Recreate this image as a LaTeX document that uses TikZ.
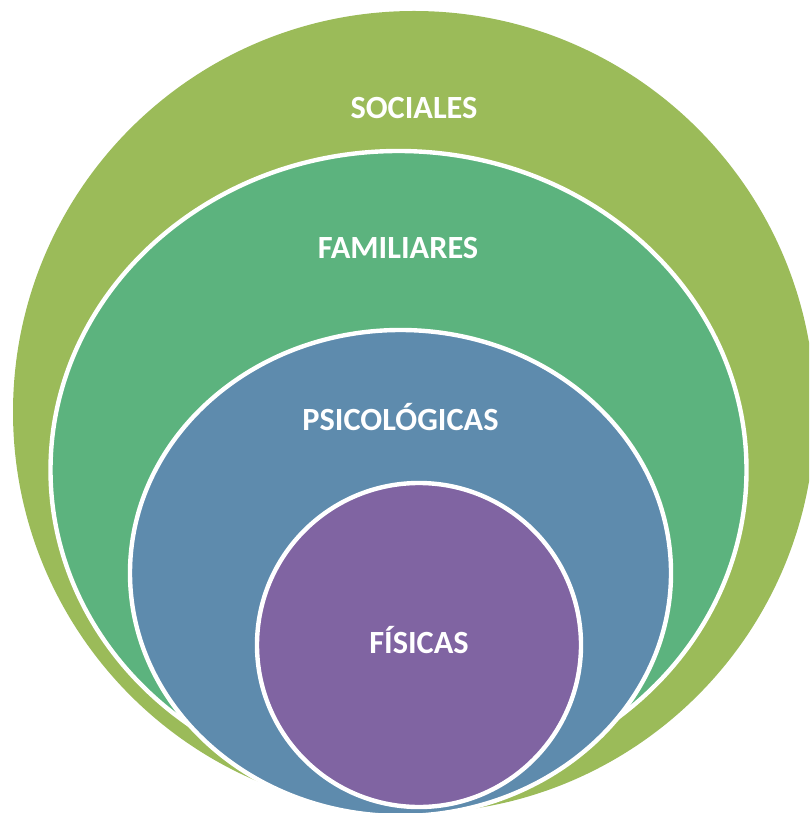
\documentclass[tikz,border=0pt]{standalone}
\usepackage{fontspec}
\setmainfont{Carlito}
\usetikzlibrary{calc}
\definecolor{socialcol}{HTML}{9BBB59}
\definecolor{familycol}{HTML}{5CB37E}
\definecolor{psychcol}{HTML}{5E8BAD}
\definecolor{physcol}{HTML}{8064A2}
\begin{document}
\begin{tikzpicture}[x = {(0.01cm,0cm)},
                    y = {(0cm,-0.01cm)}]
% style of rings
\tikzset{ringstyle/.style={draw=white,line width=1.25pt},
         labeltext/.style={text=white,font=\fontsize{9.2}{11}\selectfont\bfseries,inner sep=0pt}}
%frame
\useasboundingbox (0,0) rectangle (809,813);
\clip (0,0) rectangle (809,813);
% centres
\coordinate (S0) at (414,412);
\coordinate (F0) at (398.5,470);
\coordinate (P0) at (400.5,573);
\coordinate (H0) at (419,645);

%sociales
\fill[socialcol] (S0) circle (401);
%familiares
\draw[ringstyle,fill=familycol] (F0) ellipse (348 and 319);
%psicologicas
\draw[ringstyle,fill=psychcol] (P0) ellipse (270.5 and 243);
%fisicas
\draw[ringstyle,fill=physcol] (H0) ellipse (162 and 162);

%labels
\node[labeltext] (social) at (414,108) {SOCIALES};
\node[labeltext] (family) at (398,248) {FAMILIARES};
\node[labeltext,anchor=base] (psych) at (400.5,430.5) {PSICOLÓGICAS};
\node[labeltext,anchor=base] (phys) at (419,653.5) {FÍSICAS};
\end{tikzpicture}
\end{document}
